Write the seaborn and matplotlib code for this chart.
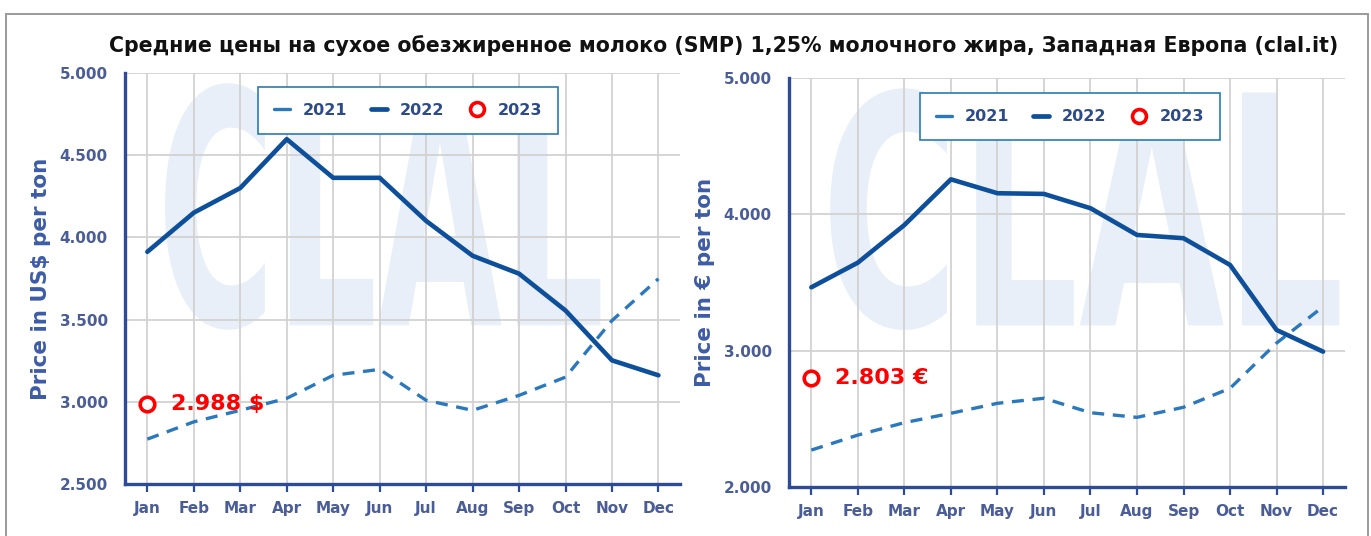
import matplotlib
matplotlib.use('Agg')
import matplotlib.pyplot as plt
import seaborn as sns
from matplotlib.lines import Line2D
from matplotlib.patches import Rectangle, PathPatch
from matplotlib.textpath import TextPath
from matplotlib.font_manager import FontProperties
from matplotlib.transforms import Affine2D
from matplotlib.ticker import FuncFormatter

months = ['Jan', 'Feb', 'Mar', 'Apr', 'May', 'Jun', 'Jul', 'Aug', 'Sep', 'Oct', 'Nov', 'Dec']

usd_2021 = [2773, 2878, 2948, 3021, 3161, 3197, 3009, 2948, 3039, 3150, 3494, 3748]
usd_2022 = [3912, 4150, 4300, 4597, 4362, 4362, 4100, 3888, 3779, 3555, 3252, 3161]
usd_2023 = [2988]

eur_2021 = [2271, 2381, 2472, 2541, 2614, 2651, 2545, 2511, 2585, 2724, 3056, 3323]
eur_2022 = [3465, 3646, 3922, 4257, 4155, 4150, 4045, 3849, 3825, 3629, 3152, 2993]
eur_2023 = [2803]

title = 'Средние цены на сухое обезжиренное молоко (SMP) 1,25% молочного жира, Западная Европа (clal.it)'

c21 = '#2b78bd'
c22 = '#0d4f9a'
c_axis = '#2d4b97'
c_tick = '#4a5d96'
c_lab = '#3d5ca6'

sns.set_style('whitegrid')
plt.rcParams['font.family'] = ['DejaVu Sans']

fig = plt.figure(figsize=(13.71, 5.36), dpi=100)
fig.patch.set_facecolor('white')

ax1 = fig.add_axes([0.0912, 0.097, 0.405, 0.767])
ax2 = fig.add_axes([0.5755, 0.0914, 0.4055, 0.763])


def watermark(ax, box):
    # faint "CLAL" logo stretched into a box behind the grid
    tp = TextPath((0, 0), 'CLAL', size=1, prop=FontProperties(family='DejaVu Sans', weight='bold'))
    ext = tp.get_extents()
    x0, y0, x1, y1 = box
    sx = (x1 - x0) / ext.width
    sy = (y1 - y0) / ext.height
    tr = Affine2D().translate(-ext.x0, -ext.y0).scale(sx, sy).translate(x0, y0) + ax.transAxes
    ax.add_patch(PathPatch(tp, transform=tr, facecolor='#e9eff8', edgecolor='none', zorder=0))


def draw(ax, v21, v22, v23, ylim, yticks, ylabel, note, wm_box, leg_anchor):
    x = list(range(len(months)))
    watermark(ax, wm_box)
    sns.lineplot(x=x, y=v21, ax=ax, color=c21, linewidth=2.4, linestyle=(0, (3.6, 2.6)), zorder=3)
    sns.lineplot(x=x, y=v22, ax=ax, color=c22, linewidth=3.3, zorder=4)
    sns.scatterplot(x=[0], y=v23, ax=ax, marker='o', s=110, color='white',
                    edgecolor='red', linewidth=2.6, zorder=5)
    ax.text(0.5, v23[0], note, color='red', fontsize=16, fontweight='bold',
            ha='left', va='center', zorder=6)

    ax.set_xlim(-0.48, 11.47)
    ax.set_ylim(*ylim)
    ax.set_xticks(x)
    ax.set_xticklabels(months)
    ax.set_yticks(yticks)
    ax.yaxis.set_major_formatter(FuncFormatter(lambda v, p: f'{v:,.0f}'.replace(',', '.')))
    ax.set_xlabel('')
    ax.set_ylabel(ylabel, fontsize=15.5, fontweight='bold', color=c_lab, labelpad=6)

    ax.set_axisbelow(True)
    ax.grid(True, color='#d2d2d2', linewidth=1.3)
    for s in ['top', 'right']:
        ax.spines[s].set_visible(False)
    for s in ['left', 'bottom']:
        ax.spines[s].set_visible(True)
        ax.spines[s].set_color(c_axis)
        ax.spines[s].set_linewidth(2.4)
    ax.tick_params(axis='x', bottom=True, direction='out', length=6, width=1.6,
                   color=c_axis, labelcolor=c_tick, labelsize=11, pad=6)
    ax.tick_params(axis='y', left=False, labelcolor=c_tick, labelsize=11, pad=9)
    for lab in ax.get_xticklabels() + ax.get_yticklabels():
        lab.set_fontweight('bold')

    handles = [
        Line2D([], [], color=c21, linewidth=2.4),
        Line2D([], [], color=c22, linewidth=3.4),
        Line2D([], [], color='red', marker='o', markersize=10, markerfacecolor='white',
               markeredgewidth=2.6, linestyle='none'),
    ]
    leg = ax.legend(handles, ['2021', '2022', '2023'], ncol=3, loc='upper left',
                    bbox_to_anchor=leg_anchor, frameon=True, fancybox=False,
                    handlelength=1.0, handletextpad=0.8, columnspacing=1.5,
                    borderpad=1.0, borderaxespad=0, fontsize=11.5)
    leg.get_frame().set_edgecolor('#2a7bb3')
    leg.get_frame().set_linewidth(1.2)
    leg.get_frame().set_alpha(1)
    for t in leg.get_texts():
        t.set_color('#2d4b8a')
        t.set_fontweight('bold')
    leg.set_zorder(10)


draw(ax1, usd_2021, usd_2022, usd_2023, (2500, 5000), [2500, 3000, 3500, 4000, 4500, 5000],
     'Price in US$ per ton', '2.988 $', (0.072, 0.375, 0.856, 0.975), (0.24, 0.966))
draw(ax2, eur_2021, eur_2022, eur_2023, (2000, 5000), [2000, 3000, 4000, 5000],
     'Price in € per ton', '2.803 €', (0.074, 0.384, 0.99, 0.975), (0.236, 0.963))

fig.text(0.528, 0.916, title, ha='center', va='center', fontsize=14.8,
         fontweight='bold', color='#111111')

fig.patches.append(Rectangle((6 / 1371, -0.02), 1362 / 1371, 1 - 14 / 536 + 0.02,
                             transform=fig.transFigure, fill=False,
                             edgecolor='#9a9a9a', linewidth=1.4, zorder=0))

fig.savefig('out.png', dpi=100)
